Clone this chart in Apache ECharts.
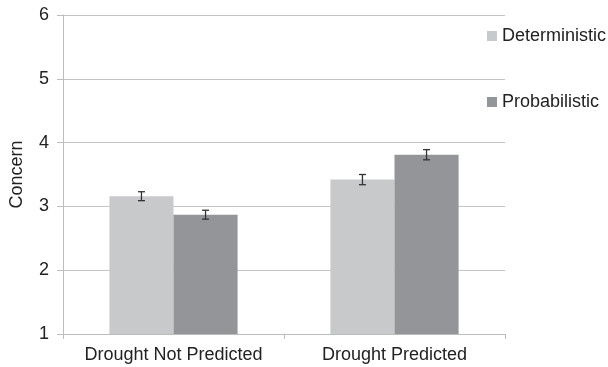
<!DOCTYPE html>
<html><head><meta charset="utf-8">
<script src="https://cdn.jsdelivr.net/npm/echarts@6/dist/echarts.min.js"></script>
<style>html,body{margin:0;padding:0;background:#fff}#c{width:608px;height:367px}</style>
</head><body><div id="c"></div>
<script>
const categories = ['Drought Not Predicted', 'Drought Predicted'];
const seriesNames = ['Deterministic', 'Probabilistic'];
const deterministic = [3.16, 3.42];
const probabilistic = [2.87, 3.81];
const detErr = [0.07, 0.08];
const probErr = [0.07, 0.08];
const yTicks = [1, 2, 3, 4, 5, 6];

const chart = echarts.init(document.getElementById('c'), null, {renderer: 'canvas'});
const font = 'Liberation Sans, Arial, sans-serif';
const catGap = 0.42;

function errSeries(vals, errs, side) {
  return {
    type: 'custom',
    silent: true,
    z: 10,
    data: vals.map((v, i) => [i, v, errs[i]]),
    renderItem: function (params, api) {
      const idx = api.value(0);
      const band = api.size([1, 0])[0];
      const bw = band * (1 - catGap) / 2;
      const cx = api.coord([idx, 0])[0] + side * bw / 2;
      const top = api.coord([idx, api.value(1) + api.value(2)])[1];
      const bot = api.coord([idx, api.value(1) - api.value(2)])[1];
      const cap = 3.5;
      const style = {stroke: '#333', lineWidth: 1.3};
      return {type: 'group', children: [
        {type: 'line', shape: {x1: cx, y1: top, x2: cx, y2: bot}, style},
        {type: 'line', shape: {x1: cx - cap, y1: top, x2: cx + cap, y2: top}, style},
        {type: 'line', shape: {x1: cx - cap, y1: bot, x2: cx + cap, y2: bot}, style}
      ]};
    },
    encode: {x: 0, y: 1}
  };
}

chart.setOption({
  animation: false,
  grid: {left: 61, right: 103, top: 15, bottom: 33, containLabel: false},
  legend: {
    orient: 'vertical', left: 482, top: 22, itemWidth: 10, itemHeight: 10, itemGap: 48,
    icon: 'rect',
    textStyle: {fontFamily: font, fontSize: 18, color: '#222'},
    data: seriesNames
  },
  xAxis: {
    type: 'category', data: categories,
    axisLine: {show: true, lineStyle: {color: '#bdbdbd', width: 1}},
    axisTick: {show: true, length: 5, lineStyle: {color: '#bdbdbd'}},
    axisLabel: {fontFamily: font, fontSize: 18, color: '#222', margin: 12, interval: 0, hideOverlap: false}
  },
  yAxis: {
    type: 'value', min: 1, max: 6, interval: 1,
    name: 'Concern', nameLocation: 'middle', nameGap: 37, nameRotate: 90,
    nameTextStyle: {fontFamily: font, fontSize: 18, color: '#222'},
    axisLine: {show: true, lineStyle: {color: '#bdbdbd', width: 1}},
    axisTick: {show: true, length: 6, lineStyle: {color: '#bdbdbd'}},
    axisLabel: {fontFamily: font, fontSize: 18, color: '#222', margin: 14,
      formatter: v => yTicks.includes(v) ? String(v) : ''},
    splitLine: {show: true, lineStyle: {color: '#c4c4c4', width: 1}}
  },
  series: [
    {name: seriesNames[0], type: 'bar', data: deterministic, barGap: '0%', barCategoryGap: '42%',
     itemStyle: {color: '#c8c9cb'}},
    {name: seriesNames[1], type: 'bar', data: probabilistic, barGap: '0%', barCategoryGap: '42%',
     itemStyle: {color: '#939598'}},
    errSeries(deterministic, detErr, -1),
    errSeries(probabilistic, probErr, 1)
  ]
});
</script></body></html>
